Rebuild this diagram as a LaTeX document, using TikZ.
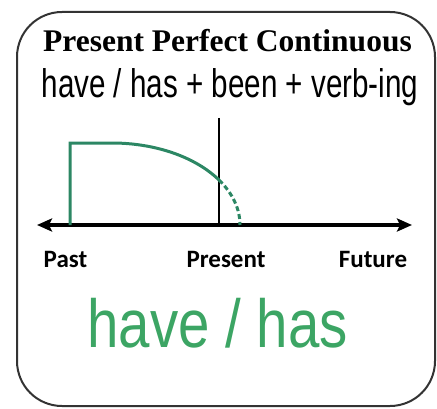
\documentclass[tikz,border=0pt]{standalone}
\usepackage{fontspec}
\usepackage{xcolor}
\usetikzlibrary{arrows.meta}

\setmainfont{Liberation Serif}
\newfontfamily\formulafont[FakeStretch=0.74]{Liberation Sans}
\newfontfamily\hasfont[FakeStretch=0.83]{Liberation Sans}
\newfontfamily\labelfont{Carlito}

\definecolor{curvegreen}{RGB}{44,135,100}
\definecolor{hasgreen}{RGB}{60,165,100}

\begin{document}
\begin{tikzpicture}[
    x=1pt, y=1pt,
    time node/.style = {anchor=base, font=\labelfont\bfseries\fontsize{25}{25}\selectfont, inner sep=0pt},
    axis line/.style = {line width=4pt, {Stealth[length=15pt,width=13pt,inset=3pt]}-{Stealth[length=15pt,width=13pt,inset=3pt]}},
    tense line/.style = {curvegreen, line width=3pt}
]
\useasboundingbox (0,0) rectangle (437,408);

% Marco redondeado
\draw[black!80, line width=2pt, rounded corners=45pt] (17,2) rectangle (435,396);

% Titulo y formula
\node[anchor=base, font=\bfseries\fontsize{31.5}{32}\selectfont, inner sep=0pt] (title) at (227.5,356) {Present Perfect Continuous};
\node[anchor=base, font=\formulafont\fontsize{40}{40}\selectfont, inner sep=0pt] (formula) at (230,310) {have / has + been + verb-ing};

% --- LINEA DE TIEMPO ---
\coordinate (past end) at (37,183);
\coordinate (future end) at (412,183);
\coordinate (now) at (219,183);
\coordinate (now top) at (219,290);
\draw[axis line] (past end) -- (future end);
\draw[line width=2.5pt] (now top) -- (now);

% Curva de la accion: solida hasta el presente, punteada despues
\coordinate (start) at (70,183);
\draw[tense line, line join=miter] (start) -- (70,265) -- (112,265) arc[start angle=90, end angle=33.3, x radius=128, y radius=82] coordinate (cross);
\draw[tense line, dashed, dash pattern=on 5pt off 3pt] (cross) arc[start angle=33.3, end angle=0, x radius=128, y radius=82];

% Etiquetas
\node[time node] (past) at (65.5,141) {Past};
\node[time node] (present) at (226,141) {Present};
\node[time node] (future) at (373,141) {Future};

% Auxiliar
\node[anchor=base, text=hasgreen, font=\hasfont\fontsize{68}{68}\selectfont, inner sep=0pt] (aux) at (217.5,61) {have / has};

\end{tikzpicture}
\end{document}
